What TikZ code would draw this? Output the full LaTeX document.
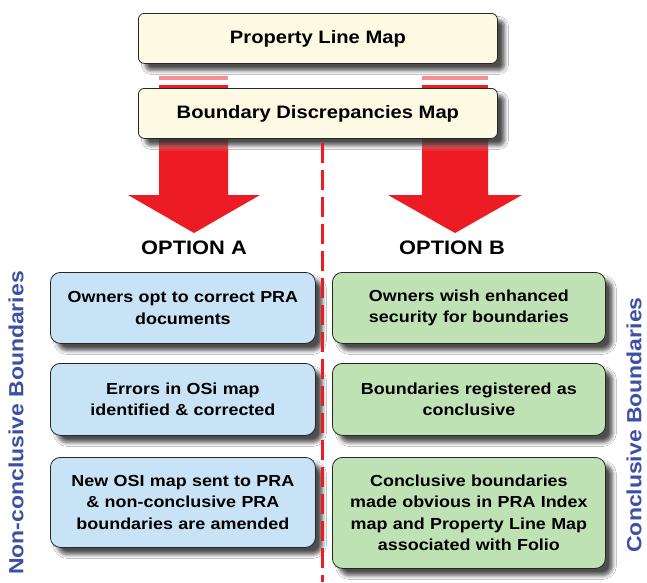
\documentclass[tikz,border=0pt]{standalone}
\usepackage{fontspec}
\setmainfont{Liberation Sans}[FakeStretch=1.12]
\usetikzlibrary{shadows.blur}
\definecolor{cream}{RGB}{252,250,226}
\definecolor{bluebox}{RGB}{200,226,246}
\definecolor{greenbox}{RGB}{190,226,180}
\definecolor{arrowred}{RGB}{237,28,36}
\definecolor{sideblue}{RGB}{60,80,165}
\tikzset{
  boxshadow/.style={blur shadow={shadow xshift=7pt, shadow yshift=-7pt, shadow blur steps=6, shadow blur radius=4pt, shadow opacity=70}},
  topbox/.style={draw=black!85, line width=0.8pt, rounded corners=6pt, fill=cream, boxshadow,
    anchor=north west, minimum width=359pt, minimum height=50pt, inner sep=0pt,
    font=\fontsize{18}{20}\selectfont\bfseries},
  optbox/.style={draw=black!85, line width=0.8pt, rounded corners=10pt, boxshadow,
    anchor=north west, inner xsep=5pt, inner ysep=0pt, align=center,
    font=\fontsize{16}{21.5}\selectfont\bfseries},
  abox/.style={optbox, fill=bluebox, text width=255pt},
  bbox/.style={optbox, fill=greenbox, text width=263pt},
  optlabel/.style={font=\fontsize{19.5}{22}\selectfont\bfseries, inner sep=0pt},
  sidelabel/.style={font=\fontsize{20.5}{24}\selectfont\bfseries, text=sideblue, rotate=90, inner sep=0pt},
  bigarrow/.style={fill=arrowred},
  divider/.style={draw=arrowred, line width=3pt, dash pattern=on 20pt off 7pt}
}
\begin{document}
\begin{tikzpicture}[x=1pt,y=-1pt]
\useasboundingbox[fill=white] (0,0) rectangle (647,582);

% arrows (behind boxes)
\fill[bigarrow] (159,150) -- (228,150) -- (228,195) -- (260,195) -- (194,233) -- (128,195) -- (159,195) -- cycle;
\shade[top color=arrowred!20, bottom color=arrowred] (159,137) rectangle (228,151);
\fill[bigarrow] (422,150) -- (488,150) -- (488,195) -- (522,195) -- (455,233) -- (388,195) -- (422,195) -- cycle;
\shade[top color=arrowred!20, bottom color=arrowred] (422,137) rectangle (488,151);

% top box
\node[topbox] (plm) at (138,13) {Property Line Map};

% faded shaft pieces between the top boxes
\fill[arrowred!50] (159,76) rectangle (228,80);
\fill[arrowred] (159,84.5) rectangle (228,87.5);
\fill[arrowred!50] (422,76) rectangle (488,80);
\fill[arrowred] (422,84.5) rectangle (488,87.5);

\node[topbox] (bdm) at (138,88) {Boundary Discrepancies Map};

% option labels
\node[optlabel] (opta) at (194,248) {OPTION A};
\node[optlabel] (optb) at (452,248) {OPTION B};

% option A boxes
\node[abox, minimum height=71pt] (a1) at (50,272) {Owners opt to correct PRA\\documents};
\node[abox, minimum height=72pt] (a2) at (50,363) {Errors in OSi map\\identified \& corrected};
\node[abox, minimum height=90pt] (a3) at (50,457) {New OSI map sent to PRA\\\& non-conclusive PRA\\boundaries are amended};

% option B boxes
\node[bbox, minimum height=71pt] (b1) at (332,272) {Owners wish enhanced\\security for boundaries};
\node[bbox, minimum height=72pt] (b2) at (332,363) {Boundaries registered as\\conclusive};
\node[bbox, minimum height=111pt] (b3) at (332,457) {Conclusive boundaries\\made obvious in PRA Index\\map and Property Line Map\\associated with Folio};

% divider
\coordinate (dtop) at (322,143);
\coordinate (dbot) at (322,582);
\draw[divider] (dtop) -- (dbot);

% side labels
\node[sidelabel] (nonc) at (16,423) {Non-conclusive Boundaries};
\node[sidelabel] (conc) at (634,425) {Conclusive Boundaries};
\end{tikzpicture}
\end{document}
